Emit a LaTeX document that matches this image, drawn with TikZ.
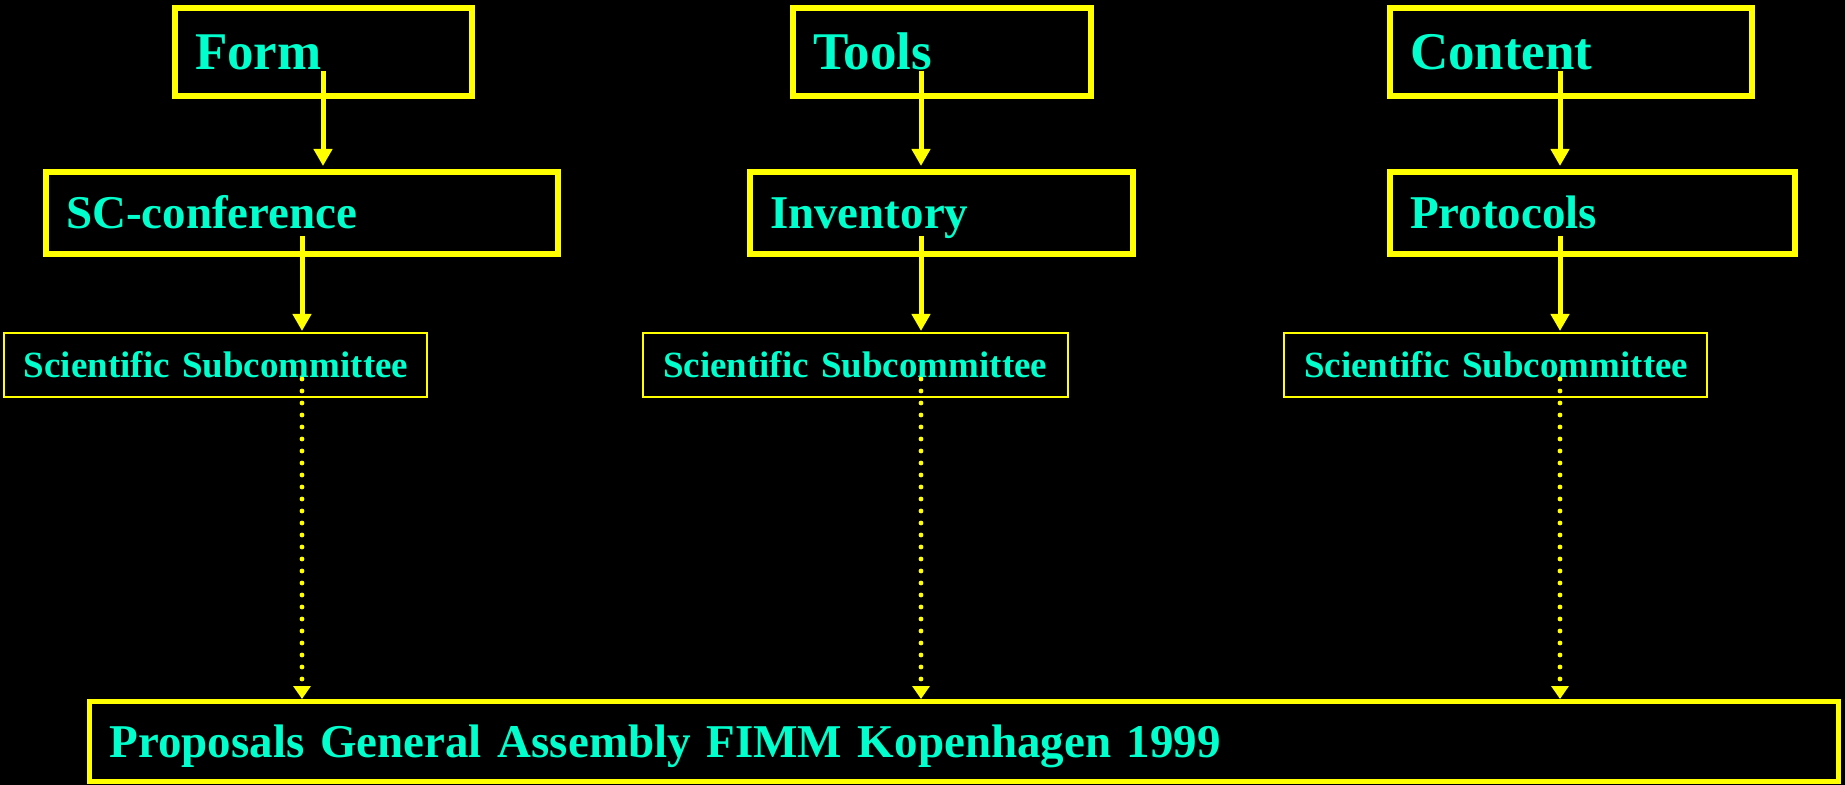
\documentclass[tikz,border=0pt]{standalone}
\usepackage{fontspec}
\setmainfont{Liberation Serif}[Ligatures=NoCommon]
\usetikzlibrary{arrows.meta}
\definecolor{boxyellow}{RGB}{255,255,0}
\definecolor{textcyan}{RGB}{0,255,204}

\begin{document}
\begin{tikzpicture}[x=0.5pt,y=-0.5pt,
                    arr/.style={draw=boxyellow,line width=2.5pt,-{Triangle[width=9pt,length=8.5pt]}},
                    dots/.style={draw=boxyellow,line width=2.4pt,line cap=round,dash pattern=on 0pt off 6pt,
                                 -{Triangle[width=8.5pt,length=6.5pt]},shorten >=1.25pt}]
\tikzstyle{every node}=[draw=boxyellow,text=textcyan,anchor=north west,align=left,
                        inner xsep=10pt,inner ysep=0pt,outer sep=0pt,text depth=0pt]
\tikzstyle{toplevel}=[line width=3pt,minimum height=44pt,text height=17.5pt,
                      font=\bfseries\fontsize{26.5}{30}\selectfont]
\tikzstyle{midlevel}=[line width=3pt,minimum height=41pt,text height=15.6pt,
                      font=\bfseries\fontsize{23.5}{27}\selectfont]
\tikzstyle{sublevel}=[line width=1pt,minimum height=32pt,text height=13pt,
                      font=\bfseries\fontsize{18.5}{22}\selectfont]
\tikzstyle{final}=[line width=2.5pt,minimum height=40pt,text height=15.6pt,
                   font=\bfseries\fontsize{23.5}{27}\selectfont]

\useasboundingbox (0,0) rectangle (1845,785);
\fill[black] (0,0) rectangle (1845,785);

% first row
\node [toplevel,text width=128.5pt] (form) at (175,8) {Form};
\node [toplevel,text width=129pt] (tools) at (793,8) {Tools};
\node [toplevel,text width=161pt] (content) at (1390,8) {Content};

% second row
\node [midlevel,text width=236pt] (sc) at (46,172) {SC-conference};
\node [midlevel,text width=171.5pt] (inv) at (750,172) {Inventory};
\node [midlevel,text width=182.5pt] (prot) at (1390,172) {Protocols};

% subcommittees
\node [sublevel,text width=191.5pt] (sub1) at (4,333) {\mbox{Scientific Subcommittee}};
\node [sublevel,text width=192.5pt] (sub2) at (643,333) {\mbox{Scientific Subcommittee}};
\node [sublevel,text width=191.5pt] (sub3) at (1284,333) {\mbox{Scientific Subcommittee}};

\node [final,text width=854.5pt] (fimm) at (89.5,701.5) {Proposals General Assembly FIMM Kopenhagen 1999};

\draw [arr,shorten >=3pt] ([xshift=74pt,yshift=12.5pt]form.south west) coordinate (a1) -- (a1 |- sc.north);
\draw [arr,shorten >=3pt] ([xshift=64pt,yshift=12.5pt]tools.south west) coordinate (a2) -- (a2 |- inv.north);
\draw [arr,shorten >=3pt] ([xshift=85pt,yshift=12.5pt]content.south west) coordinate (a3) -- (a3 |- prot.north);

\draw [arr,shorten >=1pt] ([xshift=128pt,yshift=9pt]sc.south west) coordinate (b1) -- (b1 |- sub1.north);
\draw [arr,shorten >=1pt] ([xshift=85.5pt,yshift=9pt]inv.south west) coordinate (b2) -- (b2 |- sub2.north);
\draw [arr,shorten >=1pt] ([xshift=85pt,yshift=9pt]prot.south west) coordinate (b3) -- (b3 |- sub3.north);

\draw [dots] ([xshift=149pt,yshift=9pt]sub1.south west) coordinate (c1) -- (c1 |- fimm.north);
\draw [dots] ([xshift=139pt,yshift=9pt]sub2.south west) coordinate (c2) -- (c2 |- fimm.north);
\draw [dots] ([xshift=138pt,yshift=9pt]sub3.south west) coordinate (c3) -- (c3 |- fimm.north);

\end{tikzpicture}
\end{document}
